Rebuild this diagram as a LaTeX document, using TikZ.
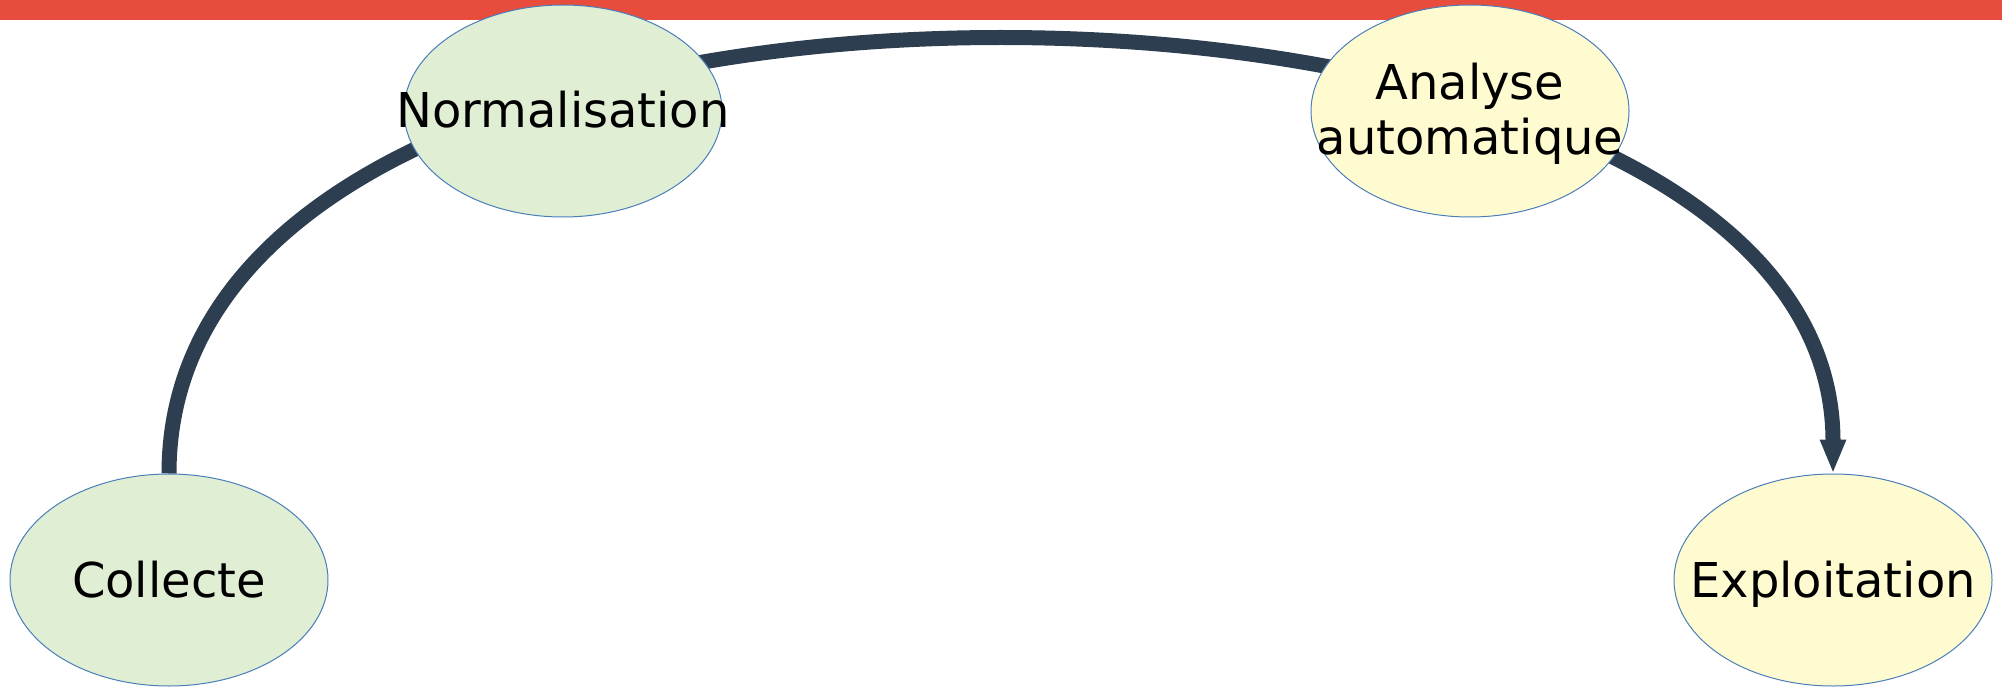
\documentclass[tikz,border=0pt]{standalone}
\usepackage{fontspec}
\setmainfont{DejaVu Sans}
\usetikzlibrary{shapes.geometric,arrows.meta}
\definecolor{barred}{HTML}{E74C3C}
\definecolor{flow}{HTML}{2C3E50}
\definecolor{ellgreen}{HTML}{E0EED4}
\definecolor{ellyellow}{HTML}{FFFBD0}
\definecolor{ellborder}{HTML}{4A7EBB}
\pgfdeclarelayer{back}
\pgfdeclarelayer{bar}
\pgfsetlayers{bar,back,main}
\newcommand{\elltext}[2]{\makebox[0pt]{\smash{\raisebox{#1}{#2}}}}
\begin{document}
\begin{tikzpicture}[x=1pt,y=-1pt,
  stage/.style={ellipse,draw=ellborder,line width=1pt,inner sep=0pt,
    minimum width=318pt,minimum height=212pt,
    font=\fontsize{48}{55}\selectfont,text=black},
  greenstage/.style={stage,fill=ellgreen},
  yellowstage/.style={stage,fill=ellyellow},
  flowline/.style={draw=flow,line width=15pt,-{Triangle[width=24pt,length=34pt]}}]
\useasboundingbox (0,0) rectangle (2002,687);
\node[greenstage] (collecte) at (169,580) {\elltext{-17pt}{Collecte}};
\node[greenstage] (normalisation) at (563,111) {\elltext{-17pt}{Normalisation}};
\node[yellowstage] (analyse) at (1470,111) {\elltext{-44pt}{\begin{tabular}[b]{@{}c@{}}Analyse\\automatique\end{tabular}}};
\node[yellowstage] (exploitation) at (1833,580) {\elltext{-17pt}{Exploitation}};
\coordinate (peak) at (1001,37.5);
\begin{pgfonlayer}{bar}
\fill[barred] (0,0) rectangle (2002,20);
\end{pgfonlayer}
\begin{pgfonlayer}{back}
\draw[flowline] (collecte.north) .. controls (169,170) and (590,37.5) .. (peak)
  .. controls (1412,37.5) and (1833,170) .. (exploitation.north);
\end{pgfonlayer}
\end{tikzpicture}
\end{document}
